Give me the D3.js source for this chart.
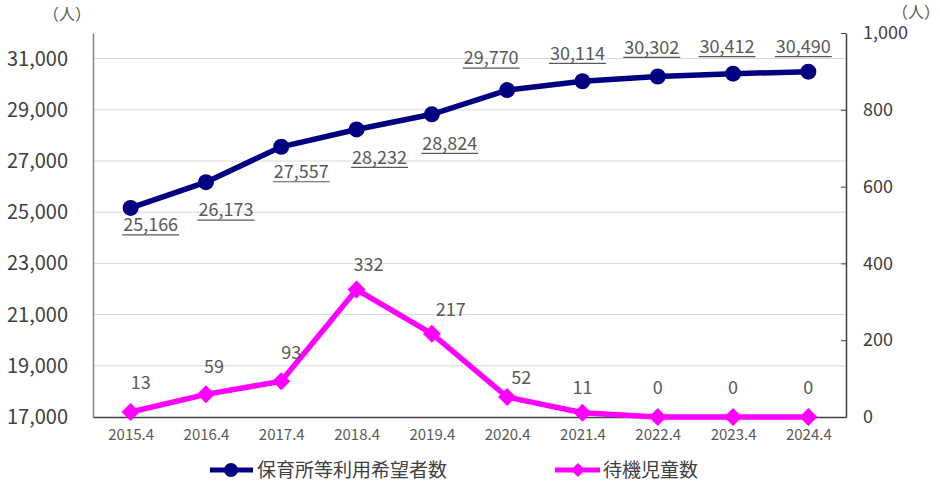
<!DOCTYPE html>
<html>
<head>
<meta charset="utf-8">
<script src="https://cdn.jsdelivr.net/npm/d3@7"></script>
<style>
body { margin: 0; background: #fff; }
text { font-family: "Noto Sans CJK JP", "Noto Sans", sans-serif; }
</style>
</head>
<body>
<div id="chart"></div>
<script>
var years = ["2015.4", "2016.4", "2017.4", "2018.4", "2019.4", "2020.4", "2021.4", "2022.4", "2023.4", "2024.4"];
var applicants = [25166, 26173, 27557, 28232, 28824, 29770, 30114, 30302, 30412, 30490];
var waiting = [13, 59, 93, 332, 217, 52, 11, 0, 0, 0];
var leftTicks = [17000, 19000, 21000, 23000, 25000, 27000, 29000, 31000];
var rightTicks = [0, 200, 400, 600, 800, 1000];
var seriesNames = ["保育所等利用希望者数", "待機児童数"];

// where each value label sits, px offset from its point
var applicantLabelOffset = [[20, 17], [20, 28], [20, 25], [23, 28], [18, 29], [-16, -32], [-5, -28], [-6, -29], [-6, -27], [-5, -25]];
var waitingLabelOffset = [[10, -29], [8, -28], [10, -29], [12, -25], [19, -24], [14, -19], [0, -25], [0, -29], [0, -29], [0, -29]];

var svgWidth = 940;
var svgHeight = 493;
var margin = { top: 33, right: 94, bottom: 76, left: 93 };
var width = svgWidth - margin.left - margin.right;
var height = svgHeight - margin.top - margin.bottom;

var svg = d3.select("#chart")
    .append("svg")
    .attr("width", svgWidth)
    .attr("height", svgHeight);

var chartGroup = svg.append("g")
    .attr("transform", `translate(${margin.left}, ${margin.top})`);

var xScale = d3.scalePoint()
    .domain(years)
    .range([0, width])
    .padding(0.5);

var yLeft = d3.scaleLinear()
    .domain([17000, 32000])
    .range([height, 0]);

var yRight = d3.scaleLinear()
    .domain([0, 1000])
    .range([height, 0]);

// gridlines
chartGroup.selectAll(".grid")
    .data(leftTicks.slice(1))
    .enter()
    .append("line")
    .attr("x1", 0)
    .attr("x2", width)
    .attr("y1", d => yLeft(d))
    .attr("y2", d => yLeft(d))
    .attr("stroke", "#d9d9d9")
    .attr("stroke-width", 1);

// left axis
var leftAxis = d3.axisLeft(yLeft)
    .tickValues(leftTicks)
    .tickSize(0)
    .tickPadding(25)
    .tickFormat(d3.format(","));
var gl = chartGroup.append("g").call(leftAxis);
gl.select(".domain").attr("stroke", "#868686").attr("stroke-width", 1.5);
gl.selectAll("text").attr("font-size", "20px").attr("fill", "#404040");

// right axis
var rightAxis = d3.axisRight(yRight)
    .tickValues(rightTicks)
    .tickSizeInner(-5)
    .tickSizeOuter(0)
    .tickPadding(17)
    .tickFormat(d3.format(","));
var gr = chartGroup.append("g")
    .attr("transform", `translate(${width}, 0)`)
    .call(rightAxis);
gr.select(".domain").attr("stroke", "#404040").attr("stroke-width", 1.5);
gr.selectAll("line").attr("stroke", "#404040");
gr.selectAll("text").attr("font-size", "18px").attr("fill", "#404040");

// bottom axis
var bottomAxis = d3.axisBottom(xScale).tickSize(0).tickPadding(12);
var gb = chartGroup.append("g")
    .attr("transform", `translate(0, ${height})`)
    .call(bottomAxis);
gb.select(".domain").attr("stroke", "#404040").attr("stroke-width", 1.5);
gb.selectAll("text").attr("font-size", "15px").attr("fill", "#595959");

// unit labels
svg.append("text").attr("x", 67).attr("y", 20).attr("text-anchor", "middle")
    .attr("font-size", "16px").attr("fill", "#595959").text("（人）");
svg.append("text").attr("x", 916).attr("y", 18).attr("text-anchor", "middle")
    .attr("font-size", "16px").attr("fill", "#595959").text("（人）");

var diamond = "M0,-9L9,0L0,9L-9,0Z";

// applicants line
var line1 = d3.line()
    .x((d, i) => xScale(years[i]))
    .y(d => yLeft(d));
chartGroup.append("path")
    .datum(applicants)
    .attr("d", line1)
    .attr("fill", "none")
    .attr("stroke", "#000080")
    .attr("stroke-width", 5.5);
chartGroup.selectAll(".dot1")
    .data(applicants)
    .enter()
    .append("circle")
    .attr("cx", (d, i) => xScale(years[i]))
    .attr("cy", d => yLeft(d))
    .attr("r", 8)
    .attr("fill", "#000080");

// waiting line
var line2 = d3.line()
    .x((d, i) => xScale(years[i]))
    .y(d => yRight(d));
chartGroup.append("path")
    .datum(waiting)
    .attr("d", line2)
    .attr("fill", "none")
    .attr("stroke", "#ff00ff")
    .attr("stroke-width", 5.5);
chartGroup.selectAll(".dot2")
    .data(waiting)
    .enter()
    .append("path")
    .attr("d", diamond)
    .attr("transform", (d, i) => `translate(${xScale(years[i])}, ${yRight(d)})`)
    .attr("fill", "#ff00ff");

// applicant labels (underlined)
applicants.forEach(function(d, i) {
    var lx = xScale(years[i]) + applicantLabelOffset[i][0];
    var ly = yLeft(d) + applicantLabelOffset[i][1];
    var t = chartGroup.append("text")
        .attr("x", lx)
        .attr("y", ly)
        .attr("dy", "0.35em")
        .attr("text-anchor", "middle")
        .attr("font-size", "18px")
        .attr("fill", "#595959")
        .text(d3.format(",")(d));
    var w = t.node().getComputedTextLength();
    chartGroup.append("line")
        .attr("x1", lx - w / 2 - 1)
        .attr("x2", lx + w / 2 + 1)
        .attr("y1", ly + 10)
        .attr("y2", ly + 10)
        .attr("stroke", "#595959")
        .attr("stroke-width", 1.2);
});

// waiting labels
chartGroup.selectAll(".lab2")
    .data(waiting)
    .enter()
    .append("text")
    .attr("x", (d, i) => xScale(years[i]) + waitingLabelOffset[i][0])
    .attr("y", (d, i) => yRight(d) + waitingLabelOffset[i][1])
    .attr("dy", "0.35em")
    .attr("text-anchor", "middle")
    .attr("font-size", "18px")
    .attr("fill", "#595959")
    .text(d => d);

// legend
var legend = svg.append("g").attr("transform", "translate(0, 470)");
legend.append("line").attr("x1", 210).attr("x2", 253).attr("y1", 0).attr("y2", 0)
    .attr("stroke", "#000080").attr("stroke-width", 5);
legend.append("circle").attr("cx", 231).attr("cy", 0).attr("r", 7).attr("fill", "#000080");
legend.append("text").attr("x", 257).attr("y", 0).attr("dy", "0.35em")
    .attr("font-size", "19px").attr("fill", "#404040").text(seriesNames[0]);

legend.append("line").attr("x1", 555).attr("x2", 600).attr("y1", 0).attr("y2", 0)
    .attr("stroke", "#ff00ff").attr("stroke-width", 5);
legend.append("path").attr("d", "M0,-7L7,0L0,7L-7,0Z").attr("transform", "translate(578, 0)")
    .attr("fill", "#ff00ff");
legend.append("text").attr("x", 603).attr("y", 0).attr("dy", "0.35em")
    .attr("font-size", "19px").attr("fill", "#404040").text(seriesNames[1]);
</script>
</body>
</html>
